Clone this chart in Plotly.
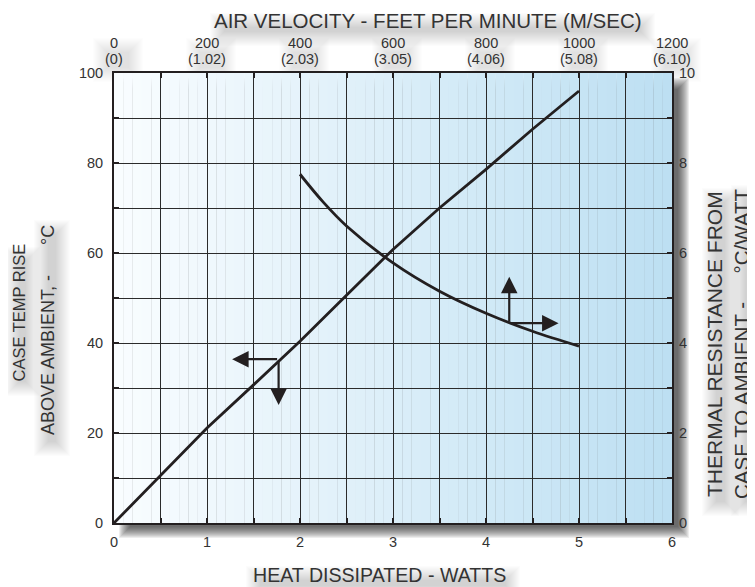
import plotly.graph_objects as go

# ---------------- data ----------------
heat_w = [0, 0.5, 1, 1.5, 2, 2.5, 3, 3.5, 4, 4.5, 5]
temp_rise = [0, 10.6, 21.1, 30.7, 40.4, 50.6, 60.8, 70.0, 78.6, 87.5, 96.0]

air_fpm = [400, 450, 500, 600, 700, 800, 900, 1000]
theta_ca = [7.75, 7.13, 6.60, 5.78, 5.15, 4.66, 4.26, 3.93]

top_ticks = [0, 200, 400, 600, 800, 1000, 1200]
top_ticks_ms = ["(0)", "(1.02)", "(2.03)", "(3.05)", "(4.06)", "(5.08)", "(6.10)"]

# arrow markers: (corner, heads)
left_marker = dict(corner=(1.77, 36.4), left=(1.27, 36.4), down=(1.77, 26.2))
right_marker = dict(corner=(850, 4.44), up=(850, 5.47), right=(956, 4.44))

# ---------------- geometry helpers ----------------
# page has an 8px body margin; positions below are in screenshot pixels
OFF = 8
W, H = 755 - OFF, 587 - OFF
L, R, T, B = 114, 672, 73, 523          # plot box in screenshot pixels
def px(x):
    return (x - L) / (R - L)
def py(y):
    return (B - y) / (B - T)

FONT = "Liberation Sans, Arial, sans-serif"
TXT = "#333333"
INK = "#231f20"

fig = go.Figure()

fig.add_trace(go.Scatter(x=heat_w, y=temp_rise, mode="lines",
                         line=dict(color=INK, width=2.8),
                         xaxis="x", yaxis="y", showlegend=False, hoverinfo="skip"))
fig.add_trace(go.Scatter(x=air_fpm, y=theta_ca, mode="lines",
                         line=dict(color=INK, width=2.8, shape="spline", smoothing=1.0),
                         xaxis="x2", yaxis="y2", showlegend=False, hoverinfo="skip"))

shapes = []
# drop shadow of plot box (blur approximation)
for k in range(12):
    shapes.append(dict(type="rect", xref="paper", yref="paper",
                       x0=px(L + 16 - k), x1=px(R + 6 + k),
                       y0=py(B + 4 + k), y1=py(T + 16 - k),
                       fillcolor="rgba(30,30,30,0.08)", line=dict(width=0),
                       layer="below"))

# soft text shadows (blurred haze behind labels)
def haze(x0, y0, x1, y1, dx=4, dy=8, alpha=0.012):
    for e in range(12, -3, -1):
        shapes.append(dict(type="rect", xref="paper", yref="paper",
                           x0=px(x0 + dx - e), x1=px(x1 + dx + e),
                           y0=py(y1 + dy + e), y1=py(y0 + dy - e),
                           fillcolor="rgba(0,0,0,%.4f)" % alpha, line=dict(width=0),
                           layer="below"))
haze(218, 17, 639, 26)
haze(254, 570, 504, 580)
haze(13, 251, 24, 376)
haze(42, 224, 54, 436)
haze(710, 192, 723, 496)
haze(739, 189, 750, 496)
for v in top_ticks:
    cx = L + v / 1200 * (R - L)
    haze(cx - 13, 42, cx + 13, 62, alpha=0.009)

# background gradient
c0 = (250, 253, 255)
c1 = (188, 223, 242)
n = 60
for i in range(n):
    t = (i + 0.5) / n
    c = tuple(int(round(c0[j] + (c1[j] - c0[j]) * t)) for j in range(3))
    shapes.append(dict(type="rect", xref="x", yref="y",
                       x0=6 * i / n, x1=6 * (i + 1) / n + 0.002, y0=0, y1=100,
                       fillcolor="rgb(%d,%d,%d)" % c, line=dict(width=0),
                       layer="below"))

ann = []
def arrow(ref_x, ref_y, head, tail):
    ann.append(dict(x=head[0], y=head[1], ax=tail[0], ay=tail[1],
                    xref=ref_x, yref=ref_y, axref=ref_x, ayref=ref_y,
                    text="", showarrow=True, arrowhead=2, arrowsize=1.5,
                    arrowwidth=2.2, arrowcolor=INK))
arrow("x", "y", left_marker["left"], left_marker["corner"])
arrow("x", "y", left_marker["down"], left_marker["corner"])
arrow("x2", "y2", right_marker["up"], right_marker["corner"])
arrow("x2", "y2", right_marker["right"], right_marker["corner"])

tickfont = dict(family=FONT, size=14.5, color=TXT)
topfont = dict(family=FONT, size=14.5, color=TXT)
for v, ms in zip(top_ticks, top_ticks_ms):
    ann.append(dict(x=v, y=py(43.5), xref="x2", yref="paper", text=str(v),
                    showarrow=False, font=topfont, xanchor="center", yanchor="middle"))
    ann.append(dict(x=v, y=py(59.5), xref="x2", yref="paper", text=ms,
                    showarrow=False, font=topfont, xanchor="center", yanchor="middle"))

def title(text, x, y, size, angle=0):
    ann.append(dict(x=px(x), y=py(y), xref="paper", yref="paper", text=text,
                    showarrow=False, textangle=angle,
                    font=dict(family=FONT, size=size, color=TXT),
                    xanchor="center", yanchor="middle"))

NB = "\u00a0"
title("AIR VELOCITY - FEET PER MINUTE (M/SEC)", 428, 21, 20.5)
title("HEAT DISSIPATED - WATTS", 379, 575, 19.6)
title("CASE TEMP RISE", 18.5, 313, 16.5, -90)
title("ABOVE AMBIENT, -" + NB * 6 + "°C", 48, 330, 18, -90)
title("THERMAL RESISTANCE FROM", 714, 344, 21, -90)
title("CASE TO AMBIENT -" + NB * 5 + "°C/WATT", 741, 343, 20.5, -90)

grid = "#2b2b2b"
fig.update_layout(
    width=W, height=H,
    margin=dict(l=L - OFF, r=(W + OFF) - R, t=T - OFF, b=(H + OFF) - B, pad=0),
    paper_bgcolor="white", plot_bgcolor="rgba(0,0,0,0)",
    showlegend=False,
    shapes=shapes, annotations=ann,
    xaxis=dict(range=[0, 6], dtick=1, tick0=0, showgrid=True, gridcolor=grid, gridwidth=1,
               minor=dict(dtick=0.5, showgrid=True, gridcolor=grid, gridwidth=1,
                          ticks="inside", ticklen=5, tickwidth=2, tickcolor=INK),
               ticks="inside", ticklen=5, tickwidth=2, tickcolor=INK,
               showline=True, linecolor=INK, linewidth=2,
               tickfont=tickfont, ticklabelstandoff=5, zeroline=False, fixedrange=True),
    yaxis=dict(range=[0, 100], dtick=20, tick0=0, showgrid=True, gridcolor=grid, gridwidth=1,
               minor=dict(dtick=10, showgrid=True, gridcolor=grid, gridwidth=1,
                          ticks="inside", ticklen=5, tickwidth=2, tickcolor=INK),
               ticks="inside", ticklen=5, tickwidth=2, tickcolor=INK,
               showline=True, linecolor=INK, linewidth=2,
               tickfont=tickfont, ticklabelstandoff=6, zeroline=False, fixedrange=True),
    xaxis2=dict(range=[0, 1200], overlaying="x", side="top", anchor="y",
                dtick=100, tick0=0, ticks="inside", ticklen=5, tickwidth=2, tickcolor=INK,
                showticklabels=False, showgrid=False, zeroline=False,
                showline=True, linecolor=INK, linewidth=2, fixedrange=True),
    yaxis2=dict(range=[0, 10], overlaying="y", side="right", anchor="x",
                dtick=2, tick0=0, ticks="inside", ticklen=5, tickwidth=2, tickcolor=INK,
                minor=dict(dtick=1, ticks="inside", ticklen=5, tickwidth=2, tickcolor=INK),
                showgrid=False, zeroline=False, showline=True, linecolor=INK, linewidth=2,
                tickfont=tickfont, ticklabelstandoff=2, fixedrange=True),
)

fig.write_html("out.html")
